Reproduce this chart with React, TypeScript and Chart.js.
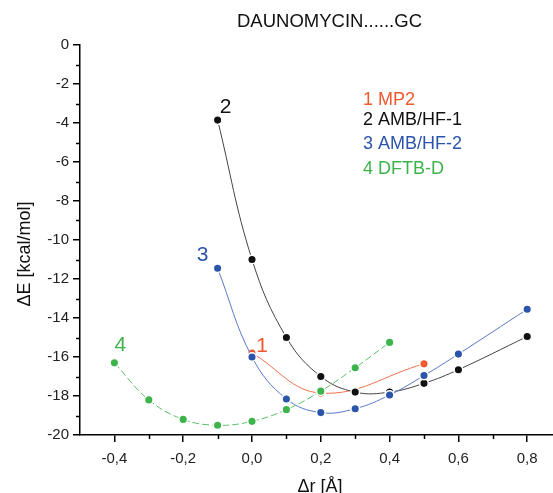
import React, { useEffect, useRef } from "react";
import { Chart, registerables } from "chart.js";

Chart.register(...registerables);

// ---- data ----
const seriesNames = ["1 MP2", "2 AMB/HF-1", "3 AMB/HF-2", "4 DFTB-D"];
const seriesColors = ["#f0582f", "#111111", "#2b55aa", "#3cb44b"];
const lineColors = ["#f07050", "#444444", "#5a78c8", "#5cc06a"];
const curveTags = ["1", "2", "3", "4"];

const mp2X = [0.0, 0.2, 0.5];
const mp2Y = [-15.8, -17.85, -16.35];
const hf1X = [-0.1, 0.0, 0.1, 0.2, 0.3, 0.4, 0.5, 0.6, 0.8];
const hf1Y = [-3.85, -11.0, -15.0, -17.0, -17.8, -17.8, -17.35, -16.65, -14.95];
const hf2X = [-0.1, 0.0, 0.1, 0.2, 0.3, 0.4, 0.5, 0.6, 0.8];
const hf2Y = [-11.45, -16.0, -18.15, -18.85, -18.65, -17.95, -16.95, -15.85, -13.55];
const dftbX = [-0.4, -0.3, -0.2, -0.1, 0.0, 0.1, 0.2, 0.3, 0.4];
const dftbY = [-16.3, -18.2, -19.2, -19.5, -19.3, -18.7, -17.75, -16.55, -15.25];

const xMajorTicks = [-0.4, -0.2, 0, 0.2, 0.4, 0.6, 0.8];
const xMinorTicks = [-0.3, -0.1, 0.1, 0.3, 0.5, 0.7];
const yMajorTicks = [0, -2, -4, -6, -8, -10, -12, -14, -16, -18, -20];
const yMinorTicks = [-1, -3, -5, -7, -9, -11, -13, -15, -17, -19];

const chartTitle = "DAUNOMYCIN......GC";
const xTitle = "\u0394r [\u00C5]";
const yTitle = "\u0394E [kcal/mol]";

const FONT = "'Liberation Sans', Arial, Helvetica, sans-serif";

const seriesX = [mp2X, hf1X, hf2X, dftbX];
const seriesY = [mp2Y, hf1Y, hf2Y, dftbY];

const overlayPlugin = {
  id: "overlay",
  afterDraw(chart: any) {
    const ctx = chart.ctx;
    const xs = chart.scales.x;
    const ys = chart.scales.y;
    const area = chart.chartArea;
    ctx.save();
    // minor ticks
    ctx.strokeStyle = "#000";
    ctx.lineWidth = 1.5;
    xMinorTicks.forEach((v) => {
      const px = Math.round(xs.getPixelForValue(v)) + 0.5;
      ctx.beginPath();
      ctx.moveTo(px, area.bottom);
      ctx.lineTo(px, area.bottom + 4);
      ctx.stroke();
    });
    yMinorTicks.forEach((v) => {
      const py = Math.round(ys.getPixelForValue(v)) + 0.5;
      ctx.beginPath();
      ctx.moveTo(area.left, py);
      ctx.lineTo(area.left - 4, py);
      ctx.stroke();
    });

    // title
    ctx.fillStyle = "#111";
    ctx.textBaseline = "middle";
    ctx.textAlign = "left";
    ctx.font = `18.5px ${FONT}`;
    ctx.fillText(chartTitle, 237, 22);

    // legend text
    const legendY = [100, 120, 144, 169];
    ctx.font = `18px ${FONT}`;
    seriesNames.forEach((name, i) => {
      ctx.fillStyle = seriesColors[i];
      ctx.fillText(name, 363, legendY[i]);
    });

    // curve tags near first point of each series
    const tagOffsets = [
      [10, -7],
      [8, -13],
      [-15, -13],
      [6, -18],
    ];
    ctx.font = `21px ${FONT}`;
    ctx.textAlign = "center";
    curveTags.forEach((t, i) => {
      const px = xs.getPixelForValue(seriesX[i][0]);
      const py = ys.getPixelForValue(seriesY[i][0]);
      ctx.fillStyle = seriesColors[i];
      ctx.fillText(t, px + tagOffsets[i][0], py + tagOffsets[i][1]);
    });

    // axis titles
    ctx.fillStyle = "#111";
    ctx.font = `18px ${FONT}`;
    ctx.textAlign = "center";
    ctx.fillText(xTitle, 320, 487);
    ctx.save();
    ctx.translate(25, 254);
    ctx.rotate(-Math.PI / 2);
    ctx.fillText(yTitle, 0, 0);
    ctx.restore();

    ctx.restore();
  },
};

function fmtX(v: number) {
  return (Math.round(v * 10) / 10).toFixed(1).replace(".", ",");
}

function zeroPad(scale: any) {
  scale.paddingLeft = 0;
  scale.paddingRight = 0;
  scale.paddingTop = 0;
  scale.paddingBottom = 0;
}

export default function App() {
  const ref = useRef<HTMLCanvasElement | null>(null);

  useEffect(() => {
    if (!ref.current) return;
    const orders = [4, 3, 2, 1];
    const datasets = seriesNames.map((name, i) => ({
      label: name,
      data: seriesX[i].map((x, j) => ({ x, y: seriesY[i][j] })),
      showLine: true,
      borderColor: lineColors[i],
      borderWidth: 1,
      borderDash: i === 3 ? [7, 3] : [],
      backgroundColor: seriesColors[i],
      pointBackgroundColor: seriesColors[i],
      pointBorderColor: "#ffffff",
      pointBorderWidth: 1.5,
      pointRadius: 4.3,
      tension: 0.4,
      clip: false,
      order: orders[i],
    }));

    const chart = new Chart(ref.current, {
      type: "scatter",
      data: { datasets },
      plugins: [overlayPlugin],
      options: {
        animation: false,
        responsive: false,
        devicePixelRatio: 1,
        layout: { autoPadding: false, padding: { top: 45, left: 0, right: 0, bottom: 0 } },
        plugins: {
          legend: { display: false },
          title: { display: false },
          tooltip: { enabled: false },
        },
        scales: {
          x: {
            type: "linear",
            min: -0.5,
            max: 0.875,
            afterBuildTicks: (scale: any) => {
              scale.ticks = xMajorTicks.map((v) => ({ value: v }));
            },
            afterFit: (scale: any) => {
              scale.height = 58;
              zeroPad(scale);
            },
            border: { display: true, color: "#000", width: 1.5 },
            grid: {
              display: true,
              drawOnChartArea: false,
              drawTicks: true,
              tickLength: 7,
              color: "#000",
              lineWidth: 1.5,
            },
            ticks: {
              callback: (v: any) => fmtX(Number(v)),
              color: "#222",
              font: { family: FONT, size: 15 },
              padding: 8,
              maxRotation: 0,
              autoSkip: false,
            },
          },
          y: {
            type: "linear",
            min: -20,
            max: 0,
            afterBuildTicks: (scale: any) => {
              scale.ticks = yMajorTicks.map((v) => ({ value: v }));
            },
            afterFit: (scale: any) => {
              scale.width = 80;
              zeroPad(scale);
            },
            border: { display: true, color: "#000", width: 1.5 },
            grid: {
              display: true,
              drawOnChartArea: false,
              drawTicks: true,
              tickLength: 7,
              color: "#000",
              lineWidth: 1.5,
            },
            ticks: {
              callback: (v: any) => String(Math.round(Number(v))),
              color: "#222",
              font: { family: FONT, size: 15 },
              padding: 4,
              autoSkip: false,
            },
          },
        },
      },
    } as any);

    return () => chart.destroy();
  }, []);

  return (
    <div style={{ position: "fixed", left: 0, top: 0, width: 553, height: 493, background: "#fff" }}>
      <canvas ref={ref} width={553} height={493} style={{ display: "block" }} />
    </div>
  );
}
